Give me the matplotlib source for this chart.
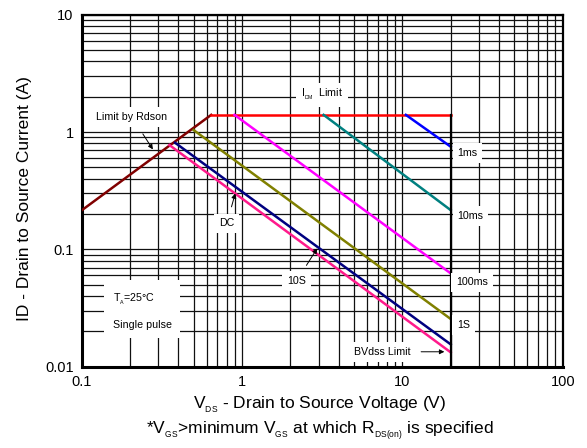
import matplotlib
matplotlib.use("Agg")
import matplotlib.pyplot as plt
from matplotlib.ticker import LogLocator, NullFormatter, FixedFormatter, FixedLocator

plt.rcParams['font.family'] = ['Liberation Sans', 'DejaVu Sans']
plt.rcParams['mathtext.fontset'] = 'custom'
plt.rcParams['mathtext.rm'] = 'Liberation Sans'
plt.rcParams['mathtext.it'] = 'Liberation Sans'

# boundary lines (V, A)
rdson_v = [0.1, 0.64]
rdson_i = [0.216, 1.40]
idm_v = [0.64, 20]
idm_i = [1.40, 1.40]
bv_v = [20, 20]
bv_i = [1.40, 0.01]

# pulse curves: label -> start/end points
pulse_names = ["1ms", "10ms", "100ms", "1S", "10S", "DC"]
pulse_v = [[10.5, 20], [3.22, 20], [0.895, 20], [0.497, 20], [0.381, 20], [0.351, 20]]
pulse_i = [[1.40, 0.75], [1.40, 0.216], [1.40, 0.0624], [1.04, 0.0255], [0.81, 0.0155], [0.775, 0.01325]]
pulse_colors = ["#0000FF", "#008080", "#FF00FF", "#808000", "#000080", "#FF1A8C"]

x_ticks = [0.1, 1, 10, 100]
x_labels = ["0.1", "1", "10", "100"]
y_ticks = [0.01, 0.1, 1, 10]
y_labels = ["0.01", "0.1", "1", "10"]

fig = plt.figure(figsize=(5.87, 4.48), dpi=100)
ax = fig.add_axes([0.1397, 0.1815, 0.8189, 0.7857])
ax.set_xscale('log')
ax.set_yscale('log')
ax.set_xlim(0.1, 100)
ax.set_ylim(0.01, 10)

ax.xaxis.set_major_locator(FixedLocator(x_ticks))
ax.xaxis.set_major_formatter(FixedFormatter(x_labels))
ax.yaxis.set_major_locator(FixedLocator(y_ticks))
ax.yaxis.set_major_formatter(FixedFormatter(y_labels))
ax.xaxis.set_minor_locator(LogLocator(base=10, subs=range(2, 10)))
ax.yaxis.set_minor_locator(LogLocator(base=10, subs=range(2, 10)))
ax.xaxis.set_minor_formatter(NullFormatter())
ax.yaxis.set_minor_formatter(NullFormatter())
ax.grid(True, which='both', color='#111111', linewidth=0.9)
ax.tick_params(which='both', length=0, labelsize=10.5)
ax.tick_params(axis='y', pad=6)
ax.tick_params(axis='x', pad=6)
for s in ax.spines.values():
    s.set_linewidth(1.6)
ax.spines['left'].set_linewidth(2.2)
ax.spines['bottom'].set_linewidth(2.2)

ax.plot(rdson_v, rdson_i, color='#800000', lw=1.8, zorder=3)
ax.plot(idm_v, idm_i, color='#FF0000', lw=1.8, zorder=3)
for v, i, c in zip(pulse_v, pulse_i, pulse_colors):
    ax.plot(v, i, color=c, lw=1.8, zorder=3)
ax.plot(bv_v, bv_i, color='black', lw=1.6, zorder=4)

box = dict(boxstyle='square,pad=0.45', fc='white', ec='none')
fs = 7.7

ax.annotate("Limit by Rdson", xy=(0.283, 0.679), xytext=(0.205, 1.34),
            ha='center', va='center', fontsize=fs, bbox=box, zorder=5,
            arrowprops=dict(arrowstyle='-|>', color='black', lw=0.7,
                            mutation_scale=7, shrinkA=6))
ax.text(3.16, 2.07, r"$\mathregular{I_{_{DM}}}$  Limit", ha='center', va='center',
        fontsize=fs, bbox=box, zorder=5)
ax.text(25.5, 0.662, "1ms", ha='center', va='center', fontsize=fs, bbox=box, zorder=5)
ax.text(26.6, 0.193, "10ms", ha='center', va='center', fontsize=fs, bbox=box, zorder=5)
ax.text(27.2, 0.0523, "100ms", ha='center', va='center', fontsize=fs, bbox=box, zorder=5)
ax.text(24.1, 0.0226, "1S", ha='center', va='center', fontsize=fs, bbox=box, zorder=5)
ax.annotate("BVdss Limit", xy=(19.0, 0.0134), xytext=(7.5, 0.0134),
            ha='center', va='center', fontsize=fs, bbox=box, zorder=5,
            arrowprops=dict(arrowstyle='-|>', color='black', lw=0.7,
                            mutation_scale=7, shrinkA=4))
ax.annotate("10S", xy=(3.0, 0.1067), xytext=(2.18, 0.0537),
            ha='center', va='center', fontsize=fs, bbox=box, zorder=5,
            arrowprops=dict(arrowstyle='-|>', color='black', lw=0.7,
                            mutation_scale=7, shrinkA=5))
ax.annotate("DC", xy=(0.914, 0.316), xytext=(0.802, 0.1666),
            ha='center', va='center', fontsize=fs, bbox=box, zorder=5,
            arrowprops=dict(arrowstyle='-|>', color='black', lw=0.7,
                            mutation_scale=7, shrinkA=5))
ax.text(0.1555, 0.03, "$\\mathregular{T_{_A}}$=25°C\n\nSingle pulse", ha='left', va='center',
        fontsize=fs, linespacing=1.2, bbox=dict(boxstyle='square,pad=0.8', fc='white', ec='none'),
        zorder=5)

fig.text(25 / 587, 1 - 199 / 448, "ID - Drain to Source Current (A)", rotation=90,
         ha='center', va='center', fontsize=12.5)
fig.text(320 / 587, 1 - 405 / 448, r"$\mathregular{V_{_{DS}}}$ - Drain to Source Voltage (V)",
         ha='center', va='center', fontsize=12.5)
fig.text(320 / 587, 1 - 431 / 448,
         r"*$\mathregular{V_{_{GS}}}$>minimum $\mathregular{V_{_{GS}}}$ at which $\mathregular{R_{_{DS(on)}}}$ is specified",
         ha='center', va='center', fontsize=12.5)

fig.savefig("out.png", dpi=100)
